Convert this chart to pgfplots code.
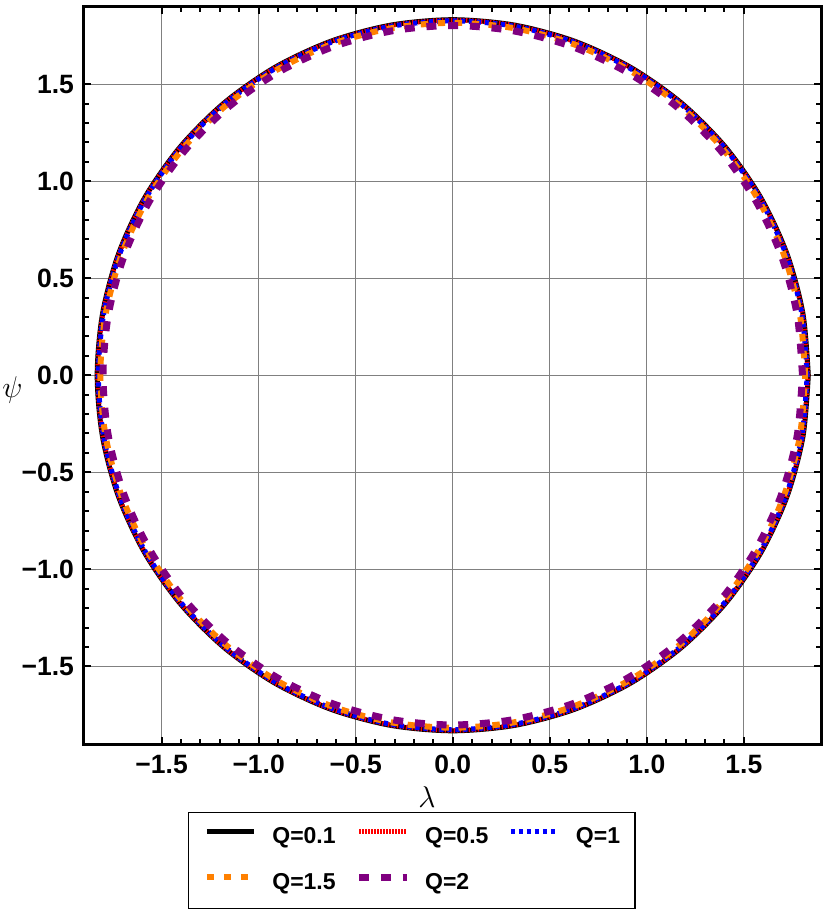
\documentclass[border=0pt]{standalone}
\usepackage{pgfplots}
\pgfplotsset{compat=1.18}
\usepackage{fontspec}
\setmainfont{Liberation Sans}
\definecolor{mmaorange}{rgb}{1,0.5,0}
\definecolor{mmapurple}{rgb}{0.5,0,0.5}
\begin{document}
\begin{tikzpicture}
\path (-33.6pt,-66.8pt) rectangle (296.8pt,297.6pt);
\begin{axis}[
  scale only axis, width=295pt, height=295pt,
  xmin=-1.9, xmax=1.9, ymin=-1.9, ymax=1.9,
  axis line style={line width=1.2pt},
  tick align=inside, xtick pos=both, ytick pos=both,
  major tick length=3pt, minor tick length=2pt,
  every tick/.style={black, line width=0.8pt},
  minor tick num=4,
  xtick={-1.5,-1,-0.5,0,0.5,1,1.5},
  ytick={-1.5,-1,-0.5,0,0.5,1,1.5},
  xticklabels={−1.5,−1.0,−0.5,0.0,0.5,1.0,1.5},
  yticklabels={−1.5,−1.0,−0.5,0.0,0.5,1.0,1.5},
  ticklabel style={font=\fontsize{10.6}{12}\selectfont\bfseries},
  xticklabel style={yshift=-1pt},
  yticklabel style={xshift=-0.5pt},
  grid=major, major grid style={gray, line width=0.45pt},
  xlabel={$\lambda$}, ylabel={$\psi$},
  xlabel style={at={(axis description cs:0.465,-0.072)}, anchor=center, inner sep=0pt, font=\fontsize{12}{14}\selectfont},
  ylabel style={at={(axis description cs:-0.097,0.48)}, anchor=center, inner sep=0pt, rotate=-90, font=\fontsize{12}{14}\selectfont},
  legend columns=3,
  legend style={at={(0.4447,-0.0922)}, anchor=north, draw=black, line width=0.5pt,
    font=\fontsize{9.2}{11}\selectfont\bfseries, inner xsep=6pt, inner ysep=5.5pt,
    nodes={inner sep=0pt, text height=7pt, text depth=2pt},
    row sep=9.4pt,
    /tikz/every odd column/.append style={column sep=6pt},
    /tikz/every even column/.append style={column sep=8pt}},
  legend cell align=left,
  legend image code/.code={\draw[#1] (0pt,2.5pt) -- (19pt,2.5pt);},
]
\addplot[black, line width=2pt, smooth, data cs=polar] coordinates {
(0,1.832) (10,1.832) (20,1.832) (30,1.832) (40,1.832) (50,1.832) (60,1.832) (70,1.832) (80,1.832) (90,1.832)
(100,1.832) (110,1.832) (120,1.832) (130,1.832) (140,1.832) (150,1.832) (160,1.832) (170,1.832) (180,1.832)
(190,1.832) (200,1.832) (210,1.832) (220,1.832) (230,1.832) (240,1.832) (250,1.832) (260,1.832) (270,1.832)
(280,1.832) (290,1.832) (300,1.832) (310,1.832) (320,1.832) (330,1.832) (340,1.832) (350,1.832) (360,1.832)};
\addlegendentry{Q=0.1}
\addplot[red, line width=1.9pt, dash pattern=on 0.6pt off 0.6pt, smooth, data cs=polar] coordinates {
(0,1.830) (10,1.830) (20,1.830) (30,1.830) (40,1.830) (50,1.830) (60,1.830) (70,1.830) (80,1.830) (90,1.830)
(100,1.830) (110,1.830) (120,1.830) (130,1.830) (140,1.830) (150,1.830) (160,1.830) (170,1.830) (180,1.830)
(190,1.830) (200,1.830) (210,1.830) (220,1.830) (230,1.830) (240,1.830) (250,1.830) (260,1.830) (270,1.830)
(280,1.830) (290,1.830) (300,1.830) (310,1.830) (320,1.830) (330,1.830) (340,1.830) (350,1.830) (360,1.830)};
\addlegendentry{Q=0.5}
\addplot[blue, line width=2pt, dash pattern=on 1.7pt off 1.5pt, smooth, data cs=polar] coordinates {
(0,1.826) (10,1.826) (20,1.826) (30,1.826) (40,1.826) (50,1.826) (60,1.826) (70,1.826) (80,1.826) (90,1.826)
(100,1.826) (110,1.826) (120,1.826) (130,1.826) (140,1.826) (150,1.826) (160,1.826) (170,1.826) (180,1.826)
(190,1.826) (200,1.826) (210,1.826) (220,1.826) (230,1.826) (240,1.826) (250,1.826) (260,1.826) (270,1.826)
(280,1.826) (290,1.826) (300,1.826) (310,1.826) (320,1.826) (330,1.826) (340,1.826) (350,1.826) (360,1.826)};
\addlegendentry{Q=1}
\addplot[mmaorange, line width=2.4pt, dash pattern=on 3pt off 3.8pt, smooth, data cs=polar] coordinates {
(0,1.816) (10,1.816) (20,1.816) (30,1.816) (40,1.816) (50,1.816) (60,1.816) (70,1.816) (80,1.816) (90,1.816)
(100,1.816) (110,1.816) (120,1.816) (130,1.816) (140,1.816) (150,1.816) (160,1.816) (170,1.816) (180,1.816)
(190,1.816) (200,1.816) (210,1.816) (220,1.816) (230,1.816) (240,1.816) (250,1.816) (260,1.816) (270,1.816)
(280,1.816) (290,1.816) (300,1.816) (310,1.816) (320,1.816) (330,1.816) (340,1.816) (350,1.816) (360,1.816)};
\addlegendentry{Q=1.5}
\addplot[mmapurple, line width=2.8pt, dash pattern=on 4pt off 4.7pt, smooth, data cs=polar] coordinates {
(0,1.802) (10,1.802) (20,1.802) (30,1.802) (40,1.802) (50,1.802) (60,1.802) (70,1.802) (80,1.802) (90,1.802)
(100,1.802) (110,1.802) (120,1.802) (130,1.802) (140,1.802) (150,1.802) (160,1.802) (170,1.802) (180,1.802)
(190,1.802) (200,1.802) (210,1.802) (220,1.802) (230,1.802) (240,1.802) (250,1.802) (260,1.802) (270,1.802)
(280,1.802) (290,1.802) (300,1.802) (310,1.802) (320,1.802) (330,1.802) (340,1.802) (350,1.802) (360,1.802)};
\addlegendentry{Q=2}
\end{axis}
\end{tikzpicture}
\end{document}
